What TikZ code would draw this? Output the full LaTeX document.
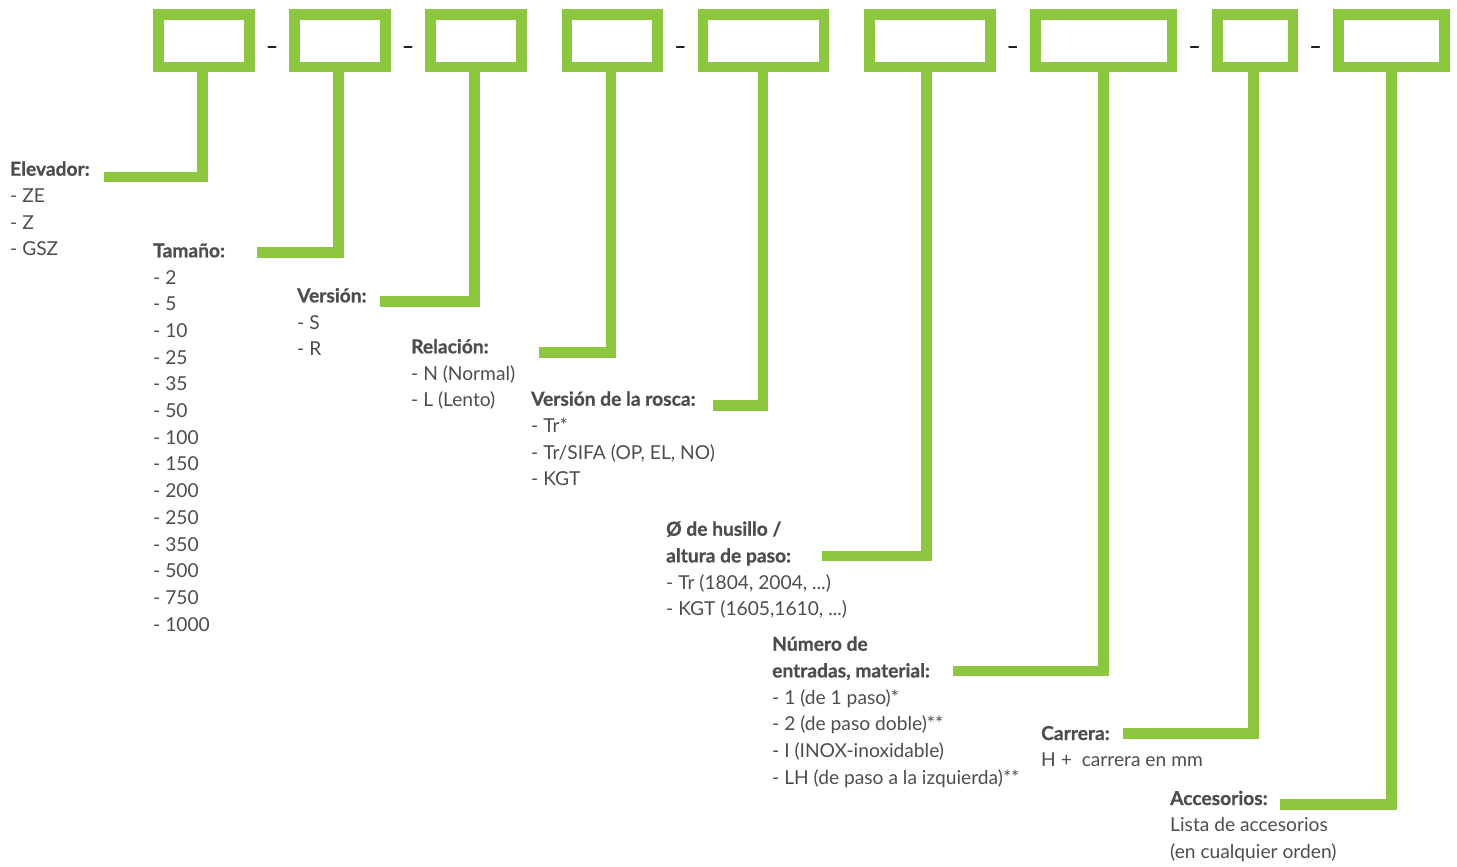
\documentclass[tikz,border=0pt]{standalone}
\usepackage{fontspec}
\setmainfont{Lato}[BoldFeatures={FakeBold=0.8}]
\definecolor{grn}{HTML}{8DC63F}
\definecolor{txt}{HTML}{4D4D4D}
\definecolor{dsh}{HTML}{231F20}
\begin{document}
\begin{tikzpicture}[x=1pt,y=-1pt,
  box/.style={draw=grn,line width=10.7pt,minimum height=52.6pt,inner sep=0pt},
  conn/.style={draw=grn,line width=10.7pt},
  lbl/.style={anchor=base west,inner sep=0pt,align=left,text=txt,font=\fontsize{19.2}{26.7}\selectfont},
  sepdash/.style={anchor=base,inner sep=0pt,text=dsh,font=\fontsize{20}{24}\selectfont\bfseries}]
\useasboundingbox (0,0) rectangle (1457,867);
% boxes
\node[box,minimum width=91pt]    (b1) at (203.85,40.65) {};
\node[box,minimum width=90.7pt]  (b2) at (340,40.65) {};
\node[box,minimum width=90.7pt]  (b3) at (476,40.65) {};
\node[box,minimum width=90.6pt]  (b4) at (612.3,40.65) {};
\node[box,minimum width=121pt]   (b5) at (763.5,40.65) {};
\node[box,minimum width=121.3pt] (b6) at (930,40.65) {};
\node[box,minimum width=136.3pt] (b7) at (1103.8,40.65) {};
\node[box,minimum width=75.6pt]  (b8) at (1255.2,40.65) {};
\node[box,minimum width=106pt]   (b9) at (1391.3,40.65) {};
% separators
\node[sepdash] (s1) at (272,53) {–};
\node[sepdash] (s2) at (408,53) {–};
\node[sepdash] (s3) at (680.3,53) {–};
\node[sepdash] (s4) at (1012.8,53) {–};
\node[sepdash] (s5) at (1194.5,53) {–};
\node[sepdash] (s6) at (1315.5,53) {–};
% labels (anchored at the baseline of the last line)
\node[lbl] (t1) at (10,255.8) {\textbf{Elevador:}\\- ZE\\- Z\\- GSZ};
\node[lbl] (t2) at (153,631.1) {\textbf{Tamaño:}\\- 2\\- 5\\- 10\\- 25\\- 35\\- 50\\- 100\\- 150\\- 200\\- 250\\- 350\\- 500\\- 750\\- 1000};
\node[lbl] (t3) at (297,355.7) {\textbf{Versión:}\\- S\\- R};
\node[lbl] (t4) at (411,406.7) {\textbf{Relación:}\\- N (Normal)\\- L (Lento)};
\node[lbl] (t5) at (531,485.8) {\textbf{Versión de la rosca:}\\- Tr*\\- Tr/SIFA (OP, EL, NO)\\- KGT};
\node[lbl] (t6) at (666,615.8) {\textbf{Ø de husillo /}\\\textbf{altura de paso:}\\- Tr (1804, 2004, ...)\\- KGT (1605,1610, ...)};
\node[lbl] (t7) at (772,784.2) {\textbf{Número de}\\\textbf{entradas, material:}\\- 1 (de 1 paso)*\\- 2 (de paso doble)**\\- I (INOX-inoxidable)\\- LH (de paso a la izquierda)**};
\node[lbl] (t8) at (1041,766.7) {\textbf{Carrera:}\\H +\ \ carrera en mm};
\node[lbl] (t9) at (1170,858.4) {\textbf{Accesorios:}\\Lista de accesorios\\(en cualquier orden)};
% connector ends
\coordinate (e1) at (104,177);
\coordinate (e2) at (256.7,252.8);
\coordinate (e3) at (380,301.7);
\coordinate (e4) at (539.3,352.3);
\coordinate (e5) at (712.7,405.8);
\coordinate (e6) at (821.7,556);
\coordinate (e7) at (952.7,671);
\coordinate (e8) at (1122.7,733.3);
\coordinate (e9) at (1280,804.7);
% connectors
\draw[conn] ([xshift=-1.2pt]b1.south) |- (e1);
\draw[conn] ([xshift=-1.3pt]b2.south) |- (e2);
\draw[conn] ([xshift=-1.3pt]b3.south) |- (e3);
\draw[conn] ([xshift=-1.3pt]b4.south) |- (e4);
\draw[conn] ([xshift=-0.5pt]b5.south) |- (e5);
\draw[conn] ([xshift=-3.3pt]b6.south) |- (e6);
\draw[conn] (b7.south) |- (e7);
\draw[conn] ([xshift=-1.9pt]b8.south) |- (e8);
\draw[conn] (b9.south) |- (e9);
\end{tikzpicture}
\end{document}
